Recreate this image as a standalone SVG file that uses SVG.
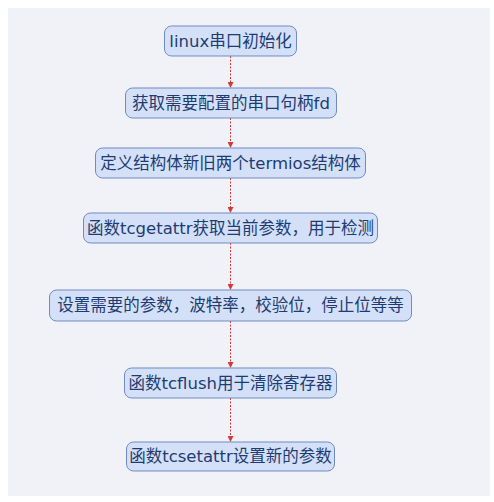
<svg xmlns="http://www.w3.org/2000/svg" width="494" height="502" viewBox="0 0 494 502">
<style>
.box{fill:#d3e0f8;stroke:#6f8bc0;stroke-width:1}
.lbl{font-family:"DejaVu Sans","Noto Sans CJK SC",sans-serif;font-size:16.5px;fill:#1e3c72;text-anchor:middle;dominant-baseline:central}
.con{stroke:#d23a3a;stroke-width:1;stroke-dasharray:2,1.5;fill:none}
</style>
<defs>
<marker id="ah" markerWidth="6" markerHeight="6" refX="5" refY="3" orient="auto" markerUnits="userSpaceOnUse">
<path d="M0,0 L6,3 L0,6 z" fill="#d23a3a"/>
</marker>
</defs>
<rect x="0" y="0" width="494" height="502" fill="#ffffff"/>
<rect x="8" y="8" width="482" height="488" fill="#f1f2f8"/>
<g id="connectors">
<line class="con" x1="230.5" y1="56" x2="230.5" y2="87" marker-end="url(#ah)"/>
<line class="con" x1="230.5" y1="118" x2="230.5" y2="147" marker-end="url(#ah)"/>
<line class="con" x1="230.5" y1="178" x2="230.5" y2="212" marker-end="url(#ah)"/>
<line class="con" x1="230.5" y1="243" x2="230.5" y2="289" marker-end="url(#ah)"/>
<line class="con" x1="230.5" y1="321" x2="230.5" y2="367" marker-end="url(#ah)"/>
<line class="con" x1="230.5" y1="398" x2="230.5" y2="441" marker-end="url(#ah)"/>
</g>
<g id="n1"><rect class="box" x="164.5" y="26" width="132" height="30" rx="7"/><text class="lbl" x="230.5" y="41">linux串口初始化</text></g>
<g id="n2"><rect class="box" x="125.5" y="88" width="211" height="30" rx="7"/><text class="lbl" x="231" y="103">获取需要配置的串口句柄fd</text></g>
<g id="n3"><rect class="box" x="95.5" y="148" width="270" height="30" rx="7"/><text class="lbl" x="230.5" y="163">定义结构体新旧两个termios结构体</text></g>
<g id="n4"><rect class="box" x="83.5" y="213" width="294" height="30" rx="7"/><text class="lbl" x="230.5" y="228">函数tcgetattr获取当前参数，用于检测</text></g>
<g id="n5"><rect class="box" x="49.5" y="290" width="362" height="31" rx="7"/><text class="lbl" x="230.5" y="305.5">设置需要的参数，波特率，校验位，停止位等等</text></g>
<g id="n6"><rect class="box" x="124.5" y="368" width="212" height="30" rx="7"/><text class="lbl" x="230.5" y="383">函数tcflush用于清除寄存器</text></g>
<g id="n7"><rect class="box" x="126.5" y="442" width="208" height="29" rx="7"/><text class="lbl" x="230.5" y="456.5">函数tcsetattr设置新的参数</text></g>
</svg>
